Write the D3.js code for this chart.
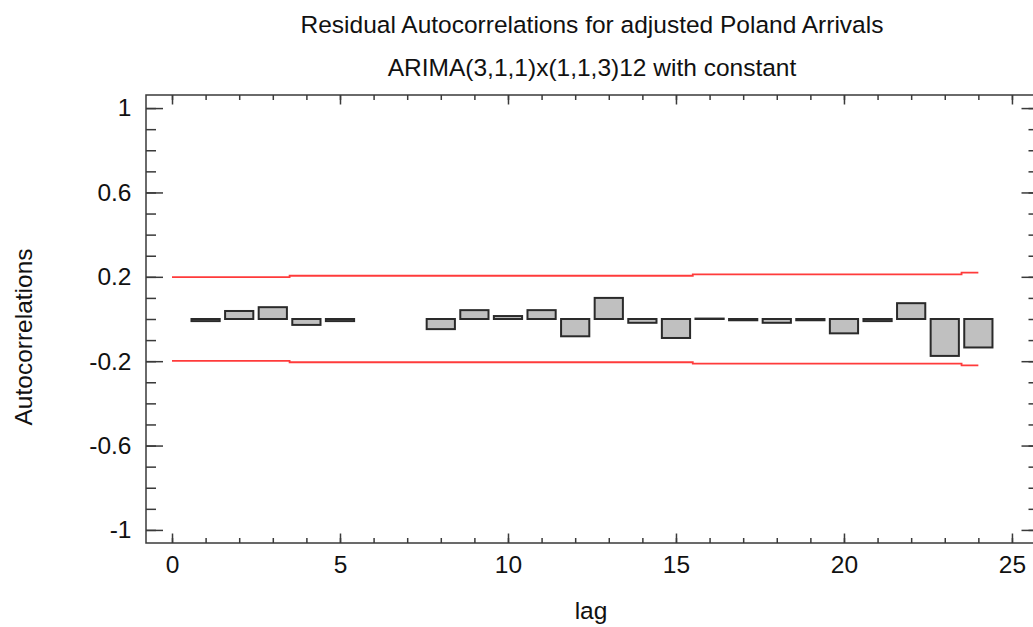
<!DOCTYPE html>
<html><head><meta charset="utf-8">
<script src="https://cdn.jsdelivr.net/npm/d3@7"></script>
<style>
body{margin:0;background:#fff;}
svg{display:block;font-family:"Liberation Sans",Arial,sans-serif;}
</style></head>
<body>
<svg id="c" width="1033" height="627"></svg>
<script>
const titleLines = ["Residual Autocorrelations for adjusted Poland Arrivals", "ARIMA(3,1,1)x(1,1,3)12 with constant"];
const xLabel = "lag";
const yLabel = "Autocorrelations";
const lags = [1,2,3,4,5,6,7,8,9,10,11,12,13,14,15,16,17,18,19,20,21,22,23,24];
const acf = [-0.01,0.038,0.056,-0.028,-0.01,null,null,-0.048,0.042,0.014,0.042,-0.082,0.1,-0.018,-0.09,0.002,-0.006,-0.018,-0.006,-0.068,-0.01,0.075,-0.175,-0.135];
const limitLags = [0,3.5,15.5,23.5,24];
const limitVals = [0.199,0.205,0.212,0.220,0.220];
const xMajorTicks = [0,5,10,15,20,25];
const yMajorTicks = [-1,-0.6,-0.2,0.2,0.6,1];

const svg = d3.select("#c");
const L=146, R=1038.5, T=95, B=543;
const x = d3.scaleLinear().domain([-0.774,25.79]).range([L,R]);
const y = d3.scaleLinear().domain([-1.062,1.062]).range([B,T]);

const xMinor = d3.range(0,26,1);
const yMinor = d3.range(-10,11,1).map(v=>v/10);
const fmt = d=>String(d);
const axisCol="#3a3a3a";
const FS="24.5px";

function styleAxis(g){
  g.select(".domain").remove();
  g.selectAll("line").attr("stroke",axisCol).attr("stroke-width",1.5);
  g.selectAll("text").attr("fill","#111").style("font-size",FS).style("font-family",'"Liberation Sans",Arial,sans-serif');
}
// bottom
svg.append("g").attr("transform",`translate(0,${B})`).call(d3.axisBottom(x).tickValues(xMinor).tickSizeInner(-5).tickSizeOuter(0).tickFormat("")).call(styleAxis);
svg.append("g").attr("transform",`translate(0,${B})`).call(d3.axisBottom(x).tickValues(xMajorTicks).tickSizeInner(-9.5).tickSizeOuter(0).tickPadding(13).tickFormat(fmt)).call(styleAxis)
  .selectAll("text").attr("dy","0.71em");
// top
svg.append("g").attr("transform",`translate(0,${T})`).call(d3.axisTop(x).tickValues(xMinor).tickSizeInner(-5).tickSizeOuter(0).tickFormat("")).call(styleAxis);
svg.append("g").attr("transform",`translate(0,${T})`).call(d3.axisTop(x).tickValues(xMajorTicks).tickSizeInner(-9.5).tickSizeOuter(0).tickFormat("")).call(styleAxis);
// left
svg.append("g").attr("transform",`translate(${L},0)`).call(d3.axisLeft(y).tickValues(yMinor).tickSizeInner(-10).tickSizeOuter(0).tickFormat("")).call(styleAxis);
svg.append("g").attr("transform",`translate(${L},0)`).call(d3.axisLeft(y).tickValues(yMajorTicks).tickSizeInner(-17).tickSizeOuter(0).tickPadding(14.5).tickFormat(fmt)).call(styleAxis);
// right
svg.append("g").attr("transform",`translate(${R},0)`).call(d3.axisRight(y).tickValues(yMinor).tickSizeInner(-10).tickSizeOuter(0).tickFormat("")).call(styleAxis);
svg.append("g").attr("transform",`translate(${R},0)`).call(d3.axisRight(y).tickValues(yMajorTicks).tickSizeInner(-17).tickSizeOuter(0).tickFormat("")).call(styleAxis);

// frame
svg.append("rect").attr("x",L).attr("y",T).attr("width",R-L).attr("height",B-T)
  .attr("fill","none").attr("stroke",axisCol).attr("stroke-width",1.5);

// limits
const limPts = limitLags.map((l,i)=>[l,limitVals[i]]);
const stepLine = d3.line().x(d=>x(d[0])).y(d=>y(d[1])).curve(d3.curveStepAfter);
svg.append("path").attr("d",stepLine(limPts)).attr("fill","none").attr("stroke","#ff3b3b").attr("stroke-width",1.8);
svg.append("path").attr("d",stepLine(limPts.map(d=>[d[0],-d[1]]))).attr("fill","none").attr("stroke","#ff3b3b").attr("stroke-width",1.8);

// bars
const hw = 0.42;
const data = lags.map((l,i)=>({lag:l,v:acf[i]})).filter(d=>d.v!==null);
svg.append("g").selectAll("rect").data(data).join("rect")
  .attr("x",d=>x(d.lag-hw))
  .attr("width",d=>x(d.lag+hw)-x(d.lag-hw))
  .attr("y",d=>y(Math.max(0,d.v)))
  .attr("height",d=>Math.max(0.4,Math.abs(y(d.v)-y(0))))
  .attr("fill","#c0c0c0").attr("stroke","#2a2a2a").attr("stroke-width",2);

// titles
svg.append("text").attr("x",592).attr("y",33).attr("text-anchor","middle").attr("fill","#111").style("font-size",FS).text(titleLines[0]);
svg.append("text").attr("x",592).attr("y",76).attr("text-anchor","middle").attr("fill","#111").style("font-size",FS).text(titleLines[1]);
svg.append("text").attr("x",591).attr("y",619).attr("text-anchor","middle").attr("fill","#111").style("font-size",FS).text(xLabel);
svg.append("text").attr("transform","translate(32,337) rotate(-90)").attr("text-anchor","middle").attr("fill","#111").style("font-size",FS).text(yLabel);
</script>
</body></html>
